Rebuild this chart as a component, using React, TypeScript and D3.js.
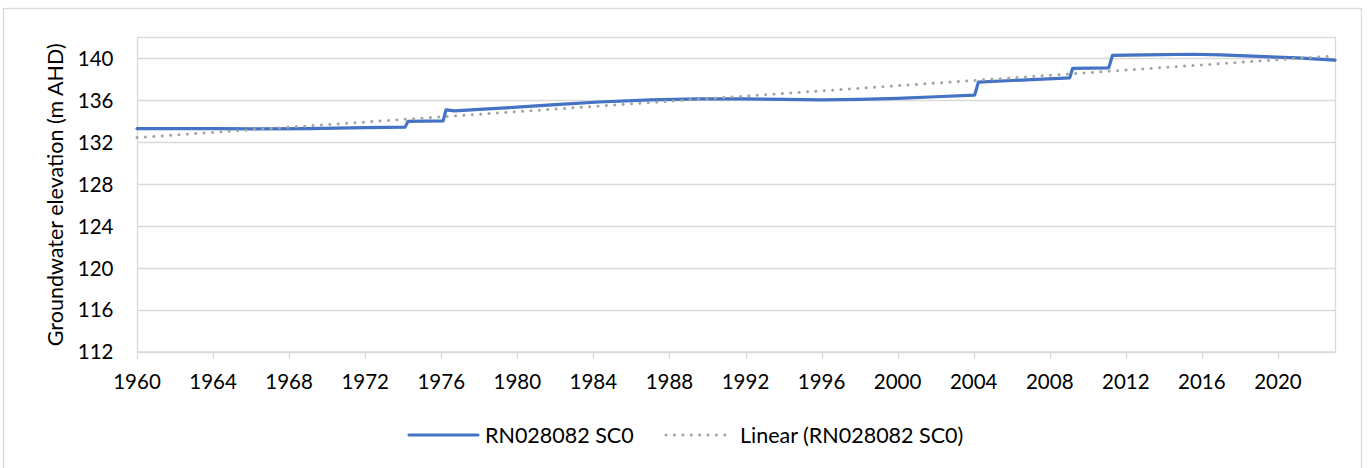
import React from "react";
import * as d3 from "d3";

// ---- data ----
const years: number[] = [
  1960.0, 1964.0, 1966.5, 1969.0, 1972.0, 1974.1, 1974.25, 1976.1, 1976.25, 1976.7,
  1978.0, 1980.0, 1982.0, 1984.3, 1987.0, 1989.6, 1992.0, 1994.0, 1996.0, 1998.0,
  2000.0, 2002.0, 2004.05, 2004.25, 2006.0, 2009.05, 2009.2, 2011.1, 2011.3, 2013.0,
  2015.5, 2017.0, 2019.0, 2021.0, 2023.0,
];
const levels: number[] = [
  133.3, 133.3, 133.28, 133.3, 133.4, 133.45, 134.0, 134.05, 135.1, 135.0,
  135.15, 135.35, 135.6, 135.85, 136.05, 136.15, 136.15, 136.1, 136.05, 136.1,
  136.2, 136.35, 136.5, 137.75, 137.9, 138.15, 139.05, 139.1, 140.3, 140.35,
  140.4, 140.35, 140.2, 140.05, 139.85,
];
const trendYears: number[] = [1960, 2023];
const trendLevels: number[] = [132.45, 140.25];
const yTicks: number[] = [112, 116, 120, 124, 128, 132, 136, 140];
const xTicks: number[] = [1960, 1964, 1968, 1972, 1976, 1980, 1984, 1988, 1992, 1996, 2000, 2004, 2008, 2012, 2016, 2020];
const seriesName = "RN028082 SC0";
const trendName = "Linear (RN028082 SC0)";
const yTitle = "Groundwater elevation (m AHD)";

const W = 1370;
const H = 468;
const plot = { left: 137, right: 1335, top: 37.5, bottom: 352 };
const FONT = "Lato, 'Open Sans', sans-serif";
const GRID = "#D9D9D9";

export default function App() {
  const x = d3.scaleLinear().domain([1960, 2023]).range([plot.left, plot.right]);
  const y = d3.scaleLinear().domain([112, 142]).range([plot.bottom, plot.top]);

  const pts = years.map((yr, i) => [yr, levels[i]] as [number, number]);
  const tpts = trendYears.map((yr, i) => [yr, trendLevels[i]] as [number, number]);
  const line = d3
    .line<[number, number]>()
    .x((d) => x(d[0]))
    .y((d) => y(d[1]));

  const legendY = 435;

  return (
    <svg
      width={W}
      height={H}
      style={{ position: "absolute", left: 0, top: 0, background: "#fff" }}
      fontFamily={FONT}
    >
      <rect x={0} y={0} width={W} height={H} fill="#fff" />
      {/* chart border */}
      <rect x={3.5} y={8.5} width={1358} height={480} fill="none" stroke={GRID} strokeWidth={1.3} />

      {/* gridlines */}
      {yTicks.map((t) => (
        <line key={t} x1={plot.left} x2={plot.right} y1={Math.round(y(t)) + 0.5} y2={Math.round(y(t)) + 0.5} stroke={GRID} strokeWidth={1.3} />
      ))}
      {/* plot area border */}
      <rect
        x={plot.left + 0.5}
        y={plot.top}
        width={plot.right - plot.left}
        height={plot.bottom - plot.top}
        fill="none"
        stroke={GRID}
        strokeWidth={1.3}
      />
      {/* x ticks */}
      {xTicks.map((t) => (
        <g key={t}>
          <line x1={Math.round(x(t)) + 0.5} x2={Math.round(x(t)) + 0.5} y1={plot.bottom} y2={plot.bottom + 6.5} stroke={GRID} strokeWidth={1.3} />
          <text x={x(t)} y={389} textAnchor="middle" fontSize={20.5} fill="#000">
            {t}
          </text>
        </g>
      ))}
      {/* y tick labels */}
      {yTicks.map((t) => (
        <text key={t} x={113.5} y={y(t)} dy="0.36em" textAnchor="end" fontSize={20.5} fill="#000">
          {t}
        </text>
      ))}
      {/* y title */}
      <text
        transform={`translate(63,${(plot.top + plot.bottom) / 2}) rotate(-90)`}
        textAnchor="middle"
        fontSize={21.5}
        fill="#000"
      >
        {yTitle}
      </text>

      {/* series */}
      <path d={line(pts) || ""} fill="none" stroke="#4472C4" strokeWidth={3.2} strokeLinejoin="round" strokeLinecap="round" />
      <path
        d={line(tpts) || ""}
        fill="none"
        stroke="#A5A5A5"
        strokeWidth={3}
        strokeLinecap="round"
        strokeDasharray="0.1 8.3"
      />

      {/* legend */}
      <line x1={409} x2={478} y1={legendY} y2={legendY} stroke="#4472C4" strokeWidth={3.2} strokeLinecap="round" />
      <text x={485} y={legendY} dy="0.36em" fontSize={21.5} fill="#000">
        {seriesName}
      </text>
      <line x1={666} x2={732} y1={legendY} y2={legendY} stroke="#A5A5A5" strokeWidth={3} strokeLinecap="round" strokeDasharray="0.1 8.3" />
      <text x={740} y={legendY} dy="0.36em" fontSize={21.5} fill="#000">
        {trendName}
      </text>
    </svg>
  );
}
